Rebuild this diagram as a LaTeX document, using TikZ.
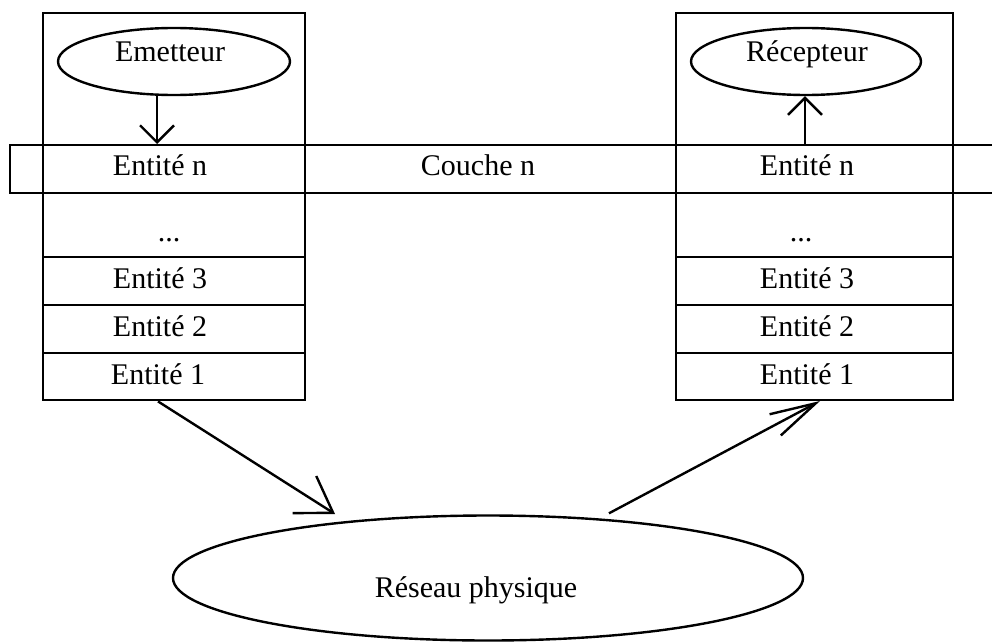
\documentclass[tikz,border=0pt]{standalone}
\usepackage{fontspec}
\setmainfont{Liberation Serif}
\usetikzlibrary{shapes.geometric,arrows.meta}
\begin{document}
\begin{tikzpicture}[x=1pt,y=-1pt,line width=2.4pt,
  lbl/.style={anchor=base,font=\fontsize{30}{36}\selectfont,inner sep=0pt},
  cell/.style={draw,rectangle,inner sep=0pt,anchor=north west},
  bulle/.style={draw,ellipse,inner sep=0pt},
  petite/.style={-{Straight Barb[length=17pt,width=34pt]}},
  largeG/.style={-{Straight Barb[length=34pt,width=44pt]}},
  largeD/.style={-{Straight Barb[length=46pt,width=24pt]}}]
\useasboundingbox (0,0) rectangle (992,642);

% layer band crossing both stacks
\node[cell,minimum width=1000pt,minimum height=48pt] (couche) at (9,144) {};

% left stack (sender)
\node[cell,minimum width=262pt,minimum height=387pt] (pileG) at (42,12) {};
\node[cell,minimum width=262pt,minimum height=48pt] (Gn) at (42,144) {};
\node[cell,minimum width=262pt,minimum height=64pt] (Gd) at (42,192) {};
\node[cell,minimum width=262pt,minimum height=48pt] (G3) at (42,256) {};
\node[cell,minimum width=262pt,minimum height=48pt] (G2) at (42,304) {};
\node[cell,minimum width=262pt,minimum height=47pt] (G1) at (42,352) {};

% right stack (receiver)
\node[cell,minimum width=277pt,minimum height=387pt] (pileD) at (675,12) {};
\node[cell,minimum width=277pt,minimum height=48pt] (Dn) at (675,144) {};
\node[cell,minimum width=277pt,minimum height=64pt] (Dd) at (675,192) {};
\node[cell,minimum width=277pt,minimum height=48pt] (D3) at (675,256) {};
\node[cell,minimum width=277pt,minimum height=48pt] (D2) at (675,304) {};
\node[cell,minimum width=277pt,minimum height=47pt] (D1) at (675,352) {};

% ellipses
\node[bulle,minimum width=232pt,minimum height=67pt] (emet) at (174,61.5) {};
\node[bulle,minimum width=230pt,minimum height=67pt] (recep) at (806,61.5) {};
\node[bulle,minimum width=630pt,minimum height=125pt] (reseau) at (488,578) {};

% texts
\node[lbl] (tEmet) at (170,62) {Emetteur};
\node[lbl] (tRecep) at (807,62) {Récepteur};
\node[lbl] (tCouche) at (478,175) {Couche n};
\node[lbl] (tReseau) at (476,597) {Réseau physique};

\node[lbl] (tGn) at (160,175) {Entité n};
\node[lbl] (tGd) at (169,241) {...};
\node[lbl] (tG3) at (160,288) {Entité 3};
\node[lbl] (tG2) at (160,336) {Entité 2};
\node[lbl] (tG1) at (158,384) {Entité 1};

\node[lbl] (tDn) at (807,175) {Entité n};
\node[lbl] (tDd) at (801,241) {...};
\node[lbl] (tD3) at (807,288) {Entité 3};
\node[lbl] (tD2) at (807,336) {Entité 2};
\node[lbl] (tD1) at (807,384) {Entité 1};

% connectors
\coordinate (xG) at (157,0);
\coordinate (xD) at (805,0);
\draw[petite] (emet.south -| xG) -- (Gn.north -| xG);
\draw[petite] (Dn.north -| xD) -- (recep.south -| xD);

\coordinate (depG) at (158,401);
\coordinate (arrG) at (335,514);
\coordinate (depD) at (609,516);
\coordinate (arrD) at (820,401);
\draw[largeG] (G1.south -| depG) -- (arrG);
\draw[largeD] (reseau.north -| depD) ++(0,-1) -- (arrD);
\end{tikzpicture}
\end{document}
